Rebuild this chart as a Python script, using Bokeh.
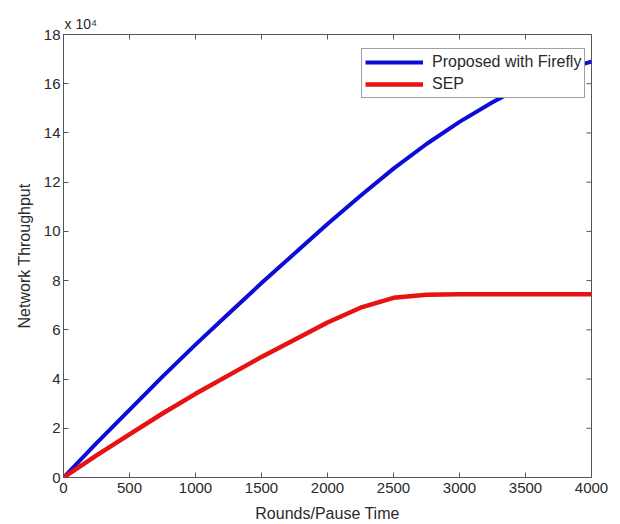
import math
from bokeh.plotting import figure
from bokeh.models import FixedTicker, Legend, LegendItem, Range1d
from bokeh.embed import file_html
from bokeh.resources import INLINE

# ---- data ----
rounds = [0, 250, 500, 750, 1000, 1250, 1500, 1750, 2000, 2250, 2500, 2750,
          3000, 3250, 3500, 3750, 4000]
firefly = [0, 14000, 27500, 41000, 54000, 66500, 79000, 91000, 103000, 114500,
           125500, 135500, 144500, 152500, 159500, 165000, 169000]
sep = [0, 9000, 17500, 26000, 34000, 41500, 49000, 56000, 63000, 69000,
       73000, 74300, 74500, 74500, 74500, 74500, 74500]
x_ticks = [0, 500, 1000, 1500, 2000, 2500, 3000, 3500, 4000]
y_ticks = [0, 20000, 40000, 60000, 80000, 100000, 120000, 140000, 160000, 180000]
y_tick_labels = ["0", "2", "4", "6", "8", "10", "12", "14", "16", "18"]
series_names = ["Proposed with Firefly", "SEP"]
x_title = "Rounds/Pause Time"
y_title = "Network Throughput"
exponent_text = "x 10\u2074"

X_MAX = 4000
Y_MAX = 180000

FONT = "Liberation Sans"
TXT = "#2a2a2a"
AX = "#555555"

p = figure(width=620, height=524, output_backend="svg", toolbar_location=None,
           x_range=Range1d(0, X_MAX), y_range=Range1d(0, Y_MAX),
           min_border_left=63, min_border_right=29, min_border_top=34,
           min_border_bottom=47, title=exponent_text)
p.background_fill_color = "white"
p.border_fill_color = "white"
p.outline_line_color = AX
p.outline_line_width = 1
p.xgrid.visible = False
p.ygrid.visible = False

p.title.align = "left"
p.title.text_font = FONT
p.title.text_font_size = "14px"
p.title.text_font_style = "normal"
p.title.text_color = TXT
p.title.offset = 1
p.title.standoff = 6

def style_axis(ax):
    ax.major_tick_in = 5
    ax.major_tick_out = 0
    ax.minor_tick_line_color = None
    ax.axis_line_color = AX
    ax.major_tick_line_color = AX
    ax.major_label_text_font = FONT
    ax.major_label_text_color = TXT
    ax.major_label_text_font_size = "15px"
    ax.axis_label_text_font = FONT
    ax.axis_label_text_font_style = "normal"
    ax.axis_label_text_font_size = "16px"
    ax.axis_label_text_color = TXT

xa = p.xaxis[0]
xa.ticker = FixedTicker(ticks=x_ticks)
style_axis(xa)
xa.major_label_standoff = 5
xa.axis_label = x_title
xa.axis_label_standoff = 9

ya = p.yaxis[0]
ya.ticker = FixedTicker(ticks=y_ticks)
ya.major_label_overrides = {t: l for t, l in zip(y_ticks, y_tick_labels)}
style_axis(ya)
ya.major_label_standoff = 3
ya.axis_label = y_title
ya.axis_label_standoff = 8

# inward ticks on the top and right edges of the box (half of each dash is clipped)
p.scatter(x=x_ticks, y=[Y_MAX] * len(x_ticks), marker="dash", angle=math.pi / 2,
          size=10, line_color=AX, line_width=1)
p.scatter(x=[X_MAX] * len(y_ticks), y=y_ticks, marker="dash",
          size=10, line_color=AX, line_width=1)

r1 = p.line(rounds, firefly, line_color="#0c0cd6", line_width=4)
r2 = p.line(rounds, sep, line_color="#e81212", line_width=4.5)

legend = Legend(items=[LegendItem(label=series_names[0], renderers=[r1]),
                       LegendItem(label=series_names[1], renderers=[r2])],
                location=(298, 379))
legend.padding = 3
legend.spacing = 2
legend.glyph_width = 58
legend.glyph_height = 20
legend.label_height = 20
legend.label_standoff = 9
legend.label_text_font = FONT
legend.label_text_font_size = "16px"
legend.label_text_color = TXT
legend.border_line_color = "#444444"
legend.border_line_width = 1
legend.background_fill_color = "white"
legend.background_fill_alpha = 1
p.add_layout(legend)

open("out.html", "w").write(file_html(p, INLINE))
